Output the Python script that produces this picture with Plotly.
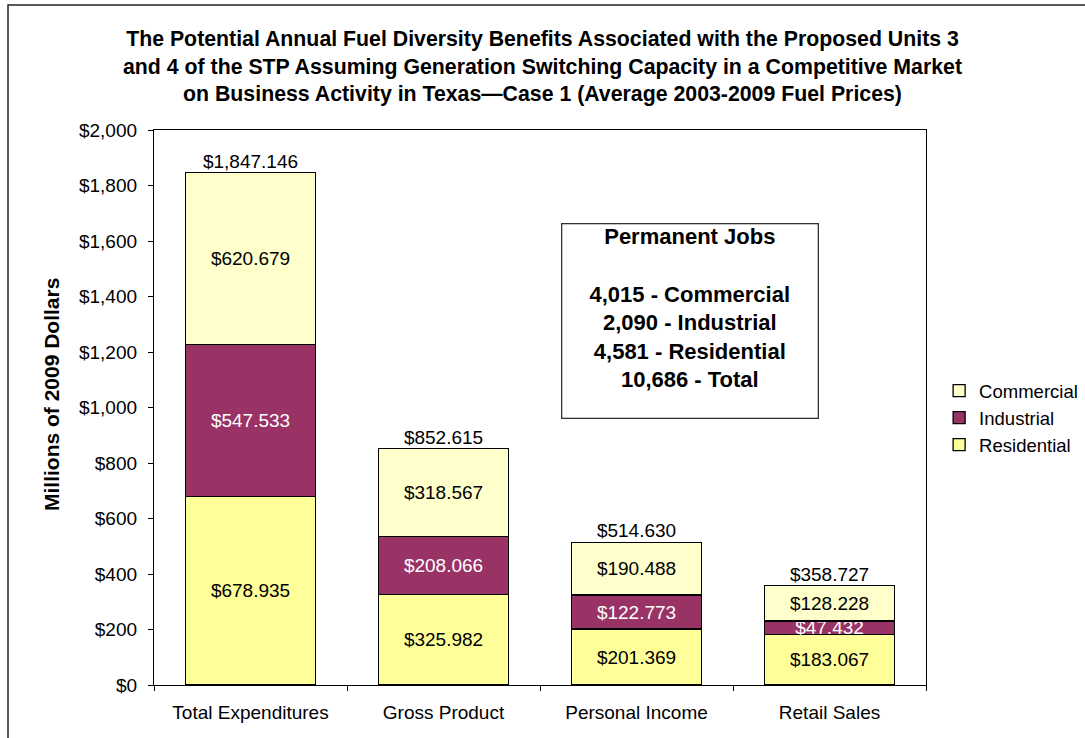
import plotly.graph_objects as go

categories = ["Total Expenditures", "Gross Product", "Personal Income", "Retail Sales"]
residential = [678.935, 325.982, 201.369, 183.067]
industrial = [547.533, 208.066, 122.773, 47.432]
commercial = [620.679, 318.567, 190.488, 128.228]
totals = [1847.146, 852.615, 514.630, 358.727]

jobs_labels = ["Commercial", "Industrial", "Residential", "Total"]
jobs_values = ["4,015", "2,090", "4,581", "10,686"]

font_family = "Liberation Sans, Arial, sans-serif"

fig = go.Figure()

# stacked segments, bottom to top
series = [
    ("Residential", residential, "#FFFF99", "black"),
    ("Industrial", industrial, "#993366", "white"),
    ("Commercial", commercial, "#FFFFCC", "black"),
]
for name, vals, col, txtcol in series:
    fig.add_trace(go.Bar(
        name=name, x=categories, y=vals,
        marker=dict(color=col, line=dict(color="black", width=1.3)),
        texttemplate="$%{y:,.3f}", textposition="inside", insidetextanchor="middle",
        textfont=dict(color=txtcol, size=19, family=font_family),
        constraintext="none", width=0.674,
    ))

# totals above the bars
fig.add_trace(go.Scatter(
    x=categories, y=totals, mode="text",
    text=["$" + format(t, ",.3f") for t in totals],
    textposition="top center",
    textfont=dict(size=19, color="black", family=font_family),
    showlegend=False, hoverinfo="skip",
))

box_text = "<b>Permanent Jobs</b><br><br>" + "<br>".join(
    "<b>%s - %s</b>" % (v, l) for v, l in zip(jobs_values, jobs_labels))

fig.add_annotation(
    xref="paper", yref="paper", x=0.6937, y=0.655, xanchor="center", yanchor="middle",
    text=box_text, showarrow=False, align="center", valign="top",
    font=dict(size=22, color="black", family=font_family),
    bordercolor="#333333", borderwidth=1.3, borderpad=0, bgcolor="white",
    width=255, height=193,
)

# y axis title
fig.add_annotation(
    xref="paper", yref="paper", x=-0.1334, y=0.5225, xanchor="center", yanchor="middle",
    text="<b>Millions of 2009 Dollars</b>", textangle=-90, showarrow=False,
    font=dict(size=21, color="black", family=font_family),
)

# outer chart border
fig.add_shape(type="rect", xref="paper", yref="paper",
              x0=-0.1891, x1=1.5, y0=-0.5, y1=1.2252,
              line=dict(color="#222222", width=1.5), fillcolor="rgba(0,0,0,0)", layer="below")

fig.update_layout(
    barmode="stack",
    width=1085, height=738,
    margin=dict(l=154, r=159, t=130, b=53, autoexpand=False),
    paper_bgcolor="white", plot_bgcolor="white",
    font=dict(family=font_family, color="black", size=19),
    title=dict(
        text="<b>The Potential Annual Fuel Diversity Benefits Associated with the Proposed Units 3<br>"
             "and 4 of the STP Assuming Generation Switching Capacity in a Competitive Market<br>"
             "on Business Activity in Texas\u2014Case 1 (Average 2003-2009 Fuel Prices)</b>",
        x=0.5, xanchor="center", y=(738 - 46) / 738, yanchor="middle",
        font=dict(size=21.3, family=font_family, color="black"),
    ),
    legend=dict(
        x=1.017, xanchor="left", y=0.481, yanchor="middle",
        traceorder="reversed", font=dict(size=18.5, family=font_family),
        itemwidth=30, tracegroupgap=0,
    ),
    showlegend=True,
)

fig.update_yaxes(
    range=[0, 2000], dtick=200, tickformat="$,.0f",
    showgrid=False, zeroline=False,
    showline=True, linecolor="black", linewidth=1.3, mirror=True,
    ticks="outside", ticklen=5, tickcolor="black", ticklabelstandoff=7,
    tickfont=dict(size=19),
)
fig.update_xaxes(
    showgrid=False, showline=True, linecolor="black", linewidth=1.3, mirror=True,
    ticks="outside", tickson="boundaries", ticklen=5, tickcolor="black", ticklabelstandoff=10,
    tickfont=dict(size=19),
)

fig.write_html("out.html", config={"displayModeBar": False},
               post_script="document.body.style.margin='0';")
